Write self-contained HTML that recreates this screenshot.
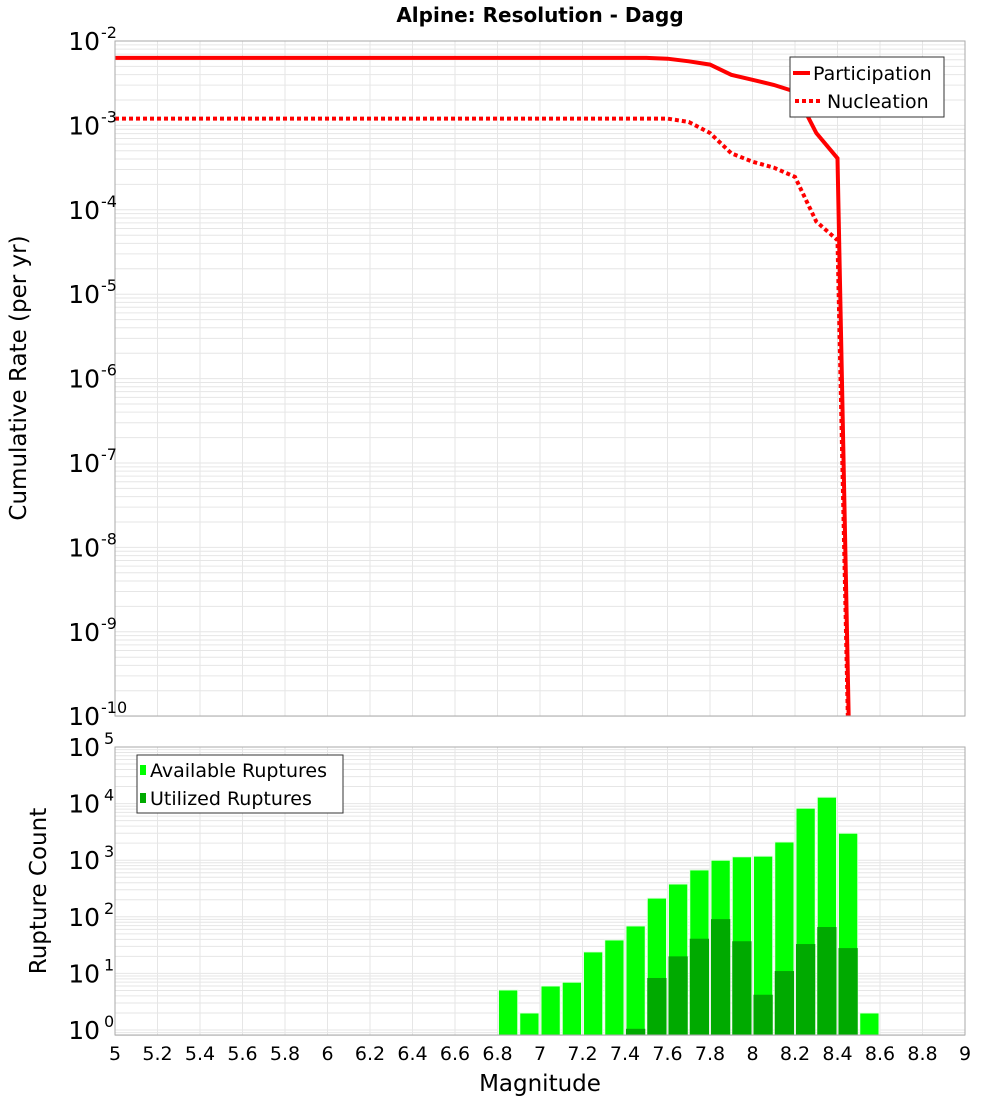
<!DOCTYPE html>
<html><head><meta charset="utf-8"><style>
body{margin:0;background:#fff;}
svg text{font-family:"DejaVu Sans","Liberation Sans",sans-serif;}
</style></head><body>
<svg id="chart" width="1000" height="1100" xmlns="http://www.w3.org/2000/svg">
<text x="540" y="22" text-anchor="middle" font-size="20" font-weight="bold">Alpine: Resolution - Dagg</text>
<g id="topPlot"></g>
<g id="botPlot"></g>
<text transform="translate(26,378) rotate(-90)" text-anchor="middle" font-size="23">Cumulative Rate (per yr)</text>
<text transform="translate(46,891) rotate(-90)" text-anchor="middle" font-size="23">Rupture Count</text>
<text x="540" y="1091" text-anchor="middle" font-size="23">Magnitude</text>
</svg>
<script>
const mags=[5.0,5.1,5.2,5.3,5.4,5.5,5.6,5.7,5.8,5.9,6.0,6.1,6.2,6.3,6.4,6.5,6.6,6.7,6.8,6.9,7.0,7.1,7.2,7.3,7.4,7.5,7.6,7.7,7.8,7.9,8.0,8.1,8.2,8.3,8.4,8.5];
const participationLog=[-2.2,-2.2,-2.2,-2.2,-2.2,-2.2,-2.2,-2.2,-2.2,-2.2,-2.2,-2.2,-2.2,-2.2,-2.2,-2.2,-2.2,-2.2,-2.2,-2.2,-2.2,-2.2,-2.2,-2.2,-2.2,-2.2,-2.21,-2.24,-2.28,-2.40,-2.46,-2.52,-2.60,-3.09,-3.39,-16];
const nucleationLog=[-2.92,-2.92,-2.92,-2.92,-2.92,-2.92,-2.92,-2.92,-2.92,-2.92,-2.92,-2.92,-2.92,-2.92,-2.92,-2.92,-2.92,-2.92,-2.92,-2.92,-2.92,-2.92,-2.92,-2.92,-2.92,-2.92,-2.92,-2.96,-3.09,-3.33,-3.43,-3.50,-3.61,-4.14,-4.36,-16];
const binCenters=[6.85,6.95,7.05,7.15,7.25,7.35,7.45,7.55,7.65,7.75,7.85,7.95,8.05,8.15,8.25,8.35,8.45,8.55];
const available=[5.1,2,6,7,24,39,69,214,380,673,1000,1150,1180,2100,8300,13000,3000,2];
const utilized=[0,0,0,0,0,0,1.05,8.3,20,41,91,37,4.2,11,33,66,28,0];
const xTicks=["5","5.2","5.4","5.6","5.8","6","6.2","6.4","6.6","6.8","7","7.2","7.4","7.6","7.8","8","8.2","8.4","8.6","8.8","9"];
const topExps=[-2,-3,-4,-5,-6,-7,-8,-9,-10];
const botExps=[5,4,3,2,1,0];

const NS="http://www.w3.org/2000/svg";
function mk(p,t,a){const e=document.createElementNS(NS,t);for(const k in a)e.setAttribute(k,a[k]);p.appendChild(e);return e;}
const L=115,R=965;
const X=m=>L+(m-5)*(R-L)/4;
const T={top:41,bot:716,lmax:-2,per:84.4};
const Yt=l=>T.top+(T.lmax-l)*T.per;
const B={top:747,bot:1035,per:56.6};
const Yb=v=>B.top+(5-Math.log10(v))*B.per;

const gTop=document.getElementById('topPlot'),gBot=document.getElementById('botPlot');
function grid(g,y0,y1,yf,lo,hi){
  for(let d=lo;d<hi;d++)for(let k=1;k<10;k++){const y=yf(d+Math.log10(k));if(y<y0-0.5||y>y1+0.5)continue;
    const ln=mk(g,'line',{x1:L,x2:R,y1:y,y2:y,stroke:'#e6e6e6','stroke-width':1});
    
    }
  for(let i=1;i<20;i++){const x=X(5+i*0.2);
    const ln=mk(g,'line',{x1:x,x2:x,y1:y0,y2:y1,stroke:'#e6e6e6','stroke-width':1});
    
    }
}
grid(gTop,T.top,T.bot,Yt,-11,-1);
grid(gBot,B.top,B.bot,v=>Yb(Math.pow(10,v)),-1,5);

const cp=mk(gTop,'clipPath',{id:'cpt'});mk(cp,'rect',{x:L,y:T.top,width:R-L,height:T.bot-T.top});
function series(logs,name,dash){
  const d=mags.map((m,i)=>(i?'L':'M')+X(m).toFixed(1)+','+Yt(logs[i]).toFixed(1)).join(' ');
  const p=mk(gTop,'path',{d:d,fill:'none',stroke:'#ff0000','stroke-width':4,'clip-path':'url(#cpt)','stroke-dasharray':dash||'none'});
  
  
}
series(nucleationLog,'nucleation-line','4 3');
series(participationLog,'participation-line');
const f1=mk(gTop,'rect',{x:L,y:T.top,width:R-L,height:T.bot-T.top,fill:'none',stroke:'#aaa'});



topExps.forEach(e=>{const y=Yt(e);
  const t=mk(gTop,'text',{x:100,y:y+9,'text-anchor':'end','font-size':25});t.textContent='10';
  
  
  const s=mk(gTop,'text',{x:101,y:y-3,'font-size':16});s.textContent=String(e);
  
  
});

const lg=mk(gTop,'g',{});


mk(lg,'rect',{x:790,y:57,width:154,height:60,fill:'#fff',stroke:'#333'});
mk(lg,'line',{x1:793,x2:810,y1:73,y2:73,stroke:'#f00','stroke-width':4});
mk(lg,'line',{x1:795,x2:820,y1:101,y2:101,stroke:'#f00','stroke-width':4,'stroke-dasharray':'4 3'});
let tx=mk(lg,'text',{x:813,y:80,'font-size':19});tx.textContent='Participation';


tx=mk(lg,'text',{x:827,y:108,'font-size':19});tx.textContent='Nucleation';



binCenters.forEach((c,i)=>{
  const x0=X(c-0.05)+1,x1=X(c+0.05)-1;
  if(available[i]>0){const y=Math.max(Yb(available[i]),B.top);
    const r=mk(gBot,'rect',{x:x0,y:y,width:x1-x0,height:B.bot-y,fill:'#00ff00',stroke:'#e8ffe8','stroke-width':1});
    
    }
  if(utilized[i]>0){const y=Yb(utilized[i]);
    const r=mk(gBot,'rect',{x:x0,y:y,width:x1-x0,height:B.bot-y,fill:'#00aa00'});
    
    }
});
const f2=mk(gBot,'rect',{x:L,y:B.top,width:R-L,height:B.bot-B.top,fill:'none',stroke:'#aaa'});


botExps.forEach(e=>{const y=Yb(Math.pow(10,e));
  const t=mk(gBot,'text',{x:100,y:y+9,'text-anchor':'end','font-size':25});t.textContent='10';
  
  
  const s=mk(gBot,'text',{x:104,y:y-3,'font-size':16});s.textContent=String(e);
  
  
});
xTicks.forEach((s,i)=>{const t=mk(gBot,'text',{x:X(5+i*0.2),y:1060,'text-anchor':'middle','font-size':19});t.textContent=s;
  
  });

const lb=mk(gBot,'g',{});


mk(lb,'rect',{x:137,y:755,width:206,height:58,fill:'#fff',stroke:'#333'});
mk(lb,'rect',{x:140,y:765,width:6,height:10,fill:'#00ff00'});
mk(lb,'rect',{x:140,y:793,width:6,height:10,fill:'#00aa00'});
tx=mk(lb,'text',{x:150,y:777,'font-size':19});tx.textContent='Available Ruptures';


tx=mk(lb,'text',{x:150,y:805,'font-size':19});tx.textContent='Utilized Ruptures';


</script>
</body></html>
